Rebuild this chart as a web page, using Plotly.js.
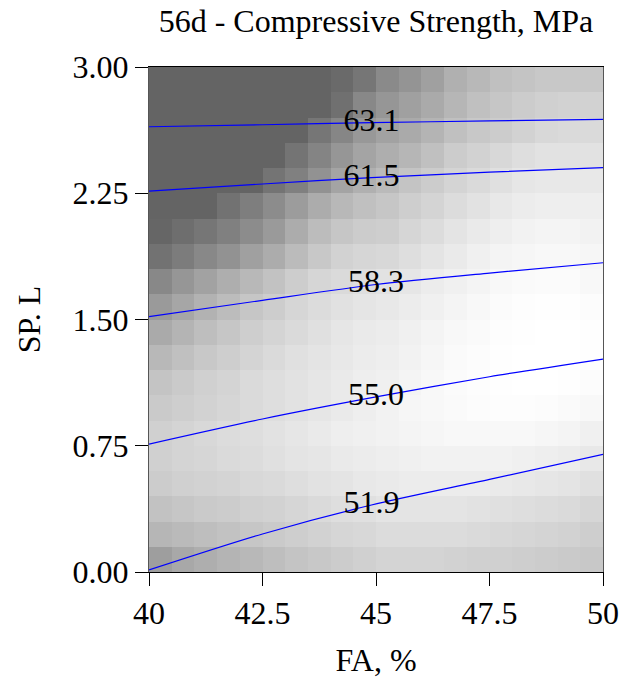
<!DOCTYPE html>
<html>
<head>
<meta charset="utf-8">
<script src="https://cdn.plot.ly/plotly-3.0.1.min.js"></script>
<style>
  html, body { margin: 0; padding: 0; background: #ffffff; }
  #chart { width: 626px; height: 686px; }
</style>
</head>
<body>
<div id="chart"></div>
<script>
// Response surface shading (grey level, 0 = black, 255 = white),
// 20 columns of FA (40 → 50 %) by 20 rows of SP (listed from SP = 3.00 down to 0.00).
const shadeRows = [
  [100,100,100,100,100,100,100,100,106,118,138,148,160,176,184,192,196,200,200,200],
  [100,100,100,100,100,100,100,100,112,136,150,160,170,182,192,198,204,208,210,210],
  [100,100,100,100,100,100,100,118,134,152,162,170,180,192,200,204,210,216,218,218],
  [100,100,100,100,100,100,116,132,150,164,174,182,192,204,210,216,222,226,226,226],
  [100,100,100,100,100,116,128,146,164,176,186,196,204,212,218,224,230,232,232,232],
  [100,100,100,114,126,140,156,172,184,192,198,206,212,220,226,232,236,238,238,238],
  [102,110,118,128,140,154,172,188,198,204,206,214,220,228,234,238,242,244,244,242],
  [114,124,136,146,160,172,187,200,210,214,216,222,228,234,240,244,246,248,248,246],
  [136,150,162,174,184,194,205,214,218,222,226,230,236,240,244,248,250,251,251,248],
  [154,166,178,188,198,205,214,220,225,229,232,236,240,244,248,251,253,254,254,252],
  [170,180,190,198,206,212,218,224,230,234,236,240,244,248,250,253,254,255,255,254],
  [184,192,200,206,212,218,224,228,232,236,238,242,246,250,252,254,255,255,255,254],
  [196,202,208,212,218,222,226,230,234,238,240,244,248,251,253,254,255,255,254,252],
  [202,206,210,214,218,222,226,230,234,238,242,246,248,250,252,253,253,252,250,248],
  [208,212,216,220,222,226,230,234,238,240,242,244,246,248,248,248,248,246,244,240],
  [208,212,214,218,220,224,228,230,234,236,238,240,242,242,242,242,240,238,236,232],
  [204,208,210,212,216,218,222,226,228,232,234,236,236,236,236,234,232,230,228,224],
  [194,198,202,204,208,210,214,218,222,224,228,228,228,228,226,224,222,220,218,214],
  [182,186,190,194,198,202,206,210,214,216,220,220,220,220,218,216,214,212,210,206],
  [158,168,174,180,184,190,196,200,204,208,212,212,212,210,208,208,206,204,202,200]
];

// Iso-strength contour lines (MPa); the third point of each carries the label.
const levels = [63.1, 61.5, 58.3, 55.0, 51.9];
const lineFA = [
  [40, 42.5, 44.9, 47.5, 50],
  [40, 42.5, 44.9, 47.5, 50],
  [40, 42.5, 45.0, 47.5, 50],
  [40, 42.5, 45.0, 47.5, 50],
  [40, 42.5, 44.9, 47.5, 50]
];
const lineSP = [
  [2.645, 2.657, 2.669, 2.680, 2.689],
  [2.263, 2.305, 2.343, 2.375, 2.402],
  [1.517, 1.614, 1.708, 1.776, 1.837],
  [0.760, 0.909, 1.040, 1.160, 1.265],
  [0.012, 0.226, 0.398, 0.550, 0.699]
];
const labelIndex = 2;

const xTicks = [40, 42.5, 45, 47.5, 50];
const xTickText = ['40', '42.5', '45', '47.5', '50'];
const yTicks = [0, 0.75, 1.5, 2.25, 3];
const yTickText = ['0.00', '0.75', '1.50', '2.25', '3.00'];

const serif = 'Liberation Serif, Times New Roman, serif';
const fs = 32;

const traces = [];

// Grey-scale surface, drawn as blocky cells (bottom row first for Plotly).
traces.push({
  type: 'heatmap',
  z: shadeRows.slice().reverse(),
  x0: 40.25, dx: 0.5,
  y0: 0.075, dy: 0.15,
  zmin: 0, zmax: 255,
  colorscale: [[0, 'rgb(0,0,0)'], [1, 'rgb(255,255,255)']],
  zsmooth: false,
  showscale: false,
  hoverinfo: 'skip'
});

// Contour lines
levels.forEach((lv, i) => {
  traces.push({
    type: 'scatter',
    mode: 'lines',
    x: lineFA[i],
    y: lineSP[i],
    line: { color: '#0000ff', width: 1.2, shape: 'spline', smoothing: 0.8 },
    hoverinfo: 'skip',
    showlegend: false
  });
});

// Contour labels sit on their own line
traces.push({
  type: 'scatter',
  mode: 'text',
  x: levels.map((lv, i) => lineFA[i][labelIndex]),
  y: levels.map((lv, i) => lineSP[i][labelIndex]),
  text: levels.map(lv => lv.toFixed(1)),
  textposition: 'middle center',
  textfont: { family: serif, size: fs, color: '#000000' },
  hoverinfo: 'skip',
  showlegend: false
});

const layout = {
  width: 626,
  height: 686,
  margin: { l: 149, r: 23, t: 67, b: 114 },
  paper_bgcolor: '#ffffff',
  plot_bgcolor: '#ffffff',
  showlegend: false,
  font: { family: serif, size: fs, color: '#000000' },
  title: {
    text: '56d - Compressive Strength, MPa',
    font: { family: serif, size: fs, color: '#000000' },
    x: 0.5, xref: 'paper', xanchor: 'center',
    y: 0.97, yref: 'container', yanchor: 'middle'
  },
  xaxis: {
    range: [40, 50],
    tickvals: xTicks,
    ticktext: xTickText,
    ticks: 'outside',
    ticklen: 13,
    tickcolor: '#000000',
    showline: true,
    linecolor: '#000000',
    linewidth: 1,
    mirror: true,
    showgrid: false,
    zeroline: false,
    tickfont: { family: serif, size: fs },
    title: { text: 'FA, %', font: { family: serif, size: fs }, standoff: 18 }
  },
  yaxis: {
    range: [0, 3],
    tickvals: yTicks,
    ticktext: yTickText,
    ticks: 'outside',
    ticklen: 13,
    tickcolor: '#000000',
    showline: true,
    linecolor: '#555555',
    linewidth: 1,
    mirror: true,
    showgrid: false,
    zeroline: false,
    tickfont: { family: serif, size: fs },
    title: { text: 'SP. L', font: { family: serif, size: fs }, standoff: 22 }
  }
};

Plotly.newPlot('chart', traces, layout, { staticPlot: true, displayModeBar: false });
</script>
</body>
</html>
